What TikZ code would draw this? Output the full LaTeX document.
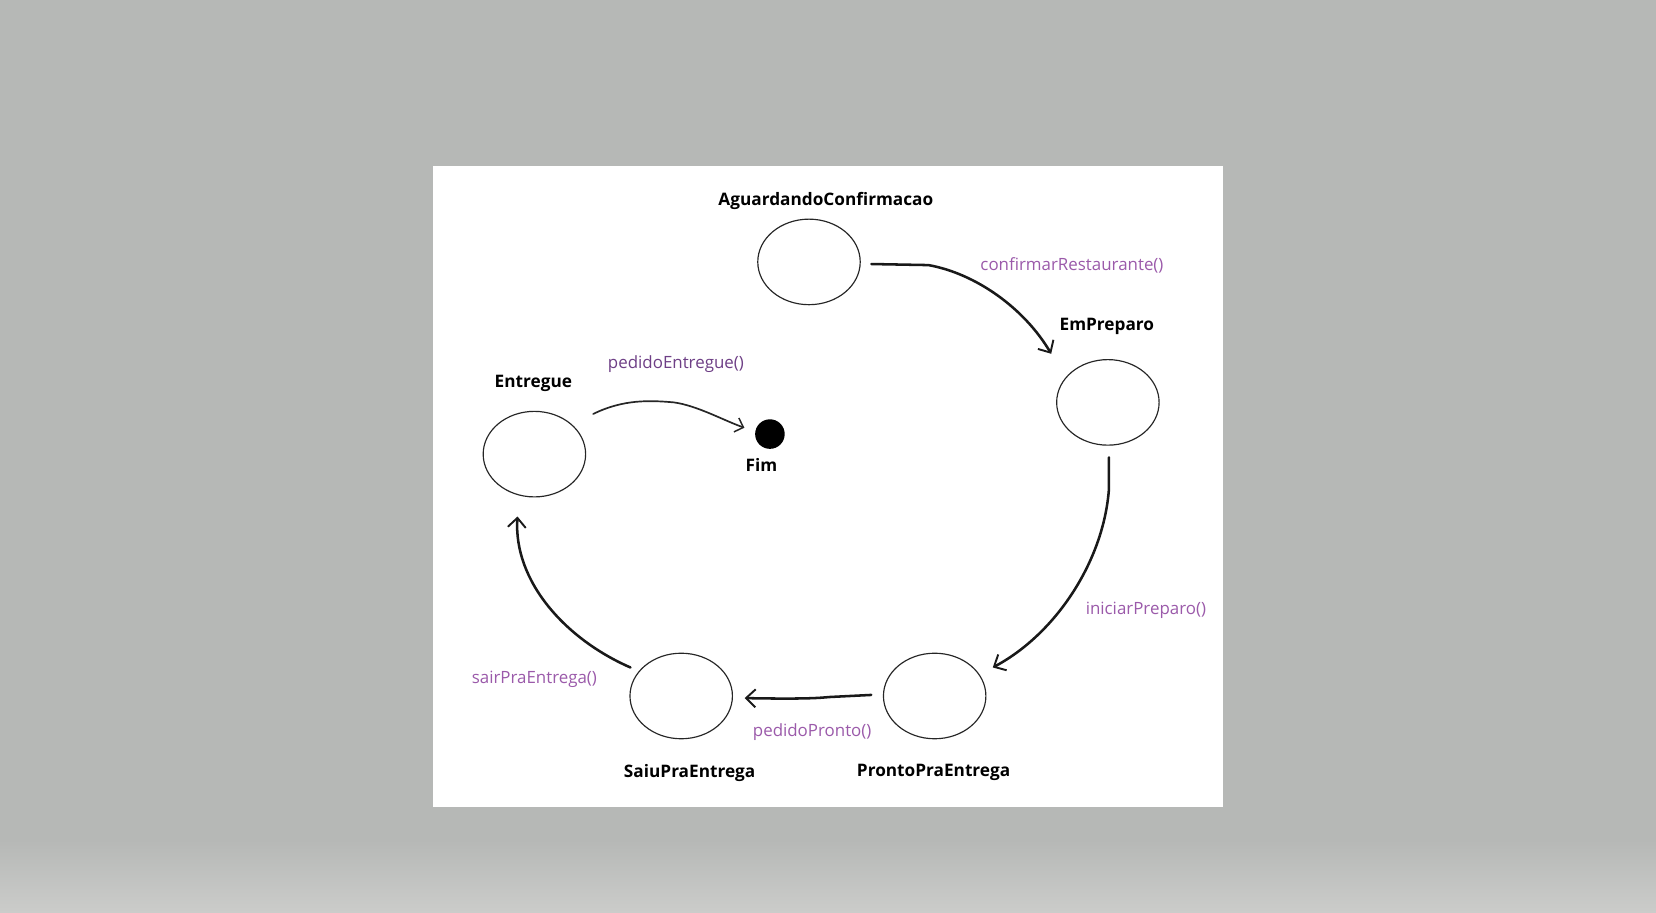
\documentclass[tikz,border=0pt]{standalone}
\usepackage{fontspec}
\setmainfont{Open Sans}
\usetikzlibrary{shapes.geometric,arrows.meta,calc}
\definecolor{bggray}{HTML}{B6B8B6}
\definecolor{bglight}{HTML}{CBCCCA}
\definecolor{lpurple}{HTML}{9B5AAA}
\definecolor{dpurple}{HTML}{6E3F86}
\tikzset{
  state/.style={ellipse,draw=black!85,line width=1.1pt,minimum width=97pt,minimum height=81pt,inner sep=0pt,fill=white},
  statename/.style={font=\fontsize{16.3}{19}\selectfont\bfseries,text=black,inner sep=0pt},
  trans/.style={font=\fontsize{16}{19}\selectfont,text=lpurple,inner sep=0pt},
  conn/.style={draw=black!90,line width=2.4pt,line cap=round,line join=round,-{Straight Barb[length=9pt,width=17pt,line width=1.8pt]}},
  thinconn/.style={draw=black!85,line width=1.6pt,line cap=round,line join=round,-{Straight Barb[length=7pt,width=14pt,line width=1.4pt]}}
}
\begin{document}
\begin{tikzpicture}[x=1pt,y=-1pt]
\useasboundingbox (0,0) rectangle (1568,864);
\fill[bggray] (0,0) rectangle (1568,864);
\shade[top color=bggray,bottom color=bglight] (0,795) rectangle (1568,864);
\fill[white] (410,157) rectangle (1158,764);

% states
\node[state] (ac) at (766,248) {};
\node[state] (ep) at (1049,381) {};
\node[state] (en) at (506,430) {};
\node[state] (sa) at (645,659) {};
\node[state] (pr) at (885,659) {};
\node[circle,fill=black,minimum size=28pt,inner sep=0pt] (fim) at (729,411) {};

% state names
\node[statename] (acl) at (782,190) {AguardandoConfirmacao};
\node[statename] (epl) at (1048,309) {EmPreparo};
\node[statename] (enl) at (505,363) {Entregue};
\node[statename] (sal) at (653,732) {SaiuPraEntrega};
\node[statename] (prl) at (884,731) {ProntoPraEntrega};
\node[statename] (fiml) at (721,440) {Fim};

% transition labels
\node[trans] (t1) at (1015,251) {confirmarRestaurante()};
\node[trans] (t2) at (1085,578) {iniciarPreparo()};
\node[trans] (t3) at (769,693) {pedidoPronto()};
\node[trans] (t4) at (506,643) {sairPraEntrega()};
\node[trans,text=dpurple] (t5) at (640,345) {pedidoEntregue()};

% connector end points
\coordinate (c1s) at ($(ac.east)+(10,2)$);
\coordinate (c1e) at ($(ep.north west)+(-19,-17)$);
\coordinate (c2s) at ($(ep.south)+(1,11)$);
\coordinate (c2e) at ($(pr.east)+(6,-27)$);
\coordinate (c3s) at ($(pr.west)+(-11,-1)$);
\coordinate (c3e) at ($(sa.east)+(11,2)$);
\coordinate (c4s) at ($(sa.west)+(1,-27)$);
\coordinate (c4e) at ($(en.south)+(-16,18)$);
\coordinate (c5s) at ($(en.north east)+(21,-9)$);
\coordinate (c5e) at ($(fim.west)+(-10,-6)$);

% connectors
\draw[conn] (c1s) -- ++(54,1) .. controls +(45,8) and (970,292) .. (c1e);
\draw[conn] (c2s) -- ++(0,30) .. controls +(-5,68) and (1000,600) .. (c2e);
\draw[conn] (c3s) -- ++(-40,2) .. controls +(-10,1) and (760,662) .. (c3e);
\draw[conn] (c4s) .. controls (535,605) and (486,550) .. (c4e);
\draw[thinconn] (c5s) .. controls (590,378) and (615,379) .. (638,381) .. controls (660,384) and (685,398) .. (c5e);
\end{tikzpicture}
\end{document}
